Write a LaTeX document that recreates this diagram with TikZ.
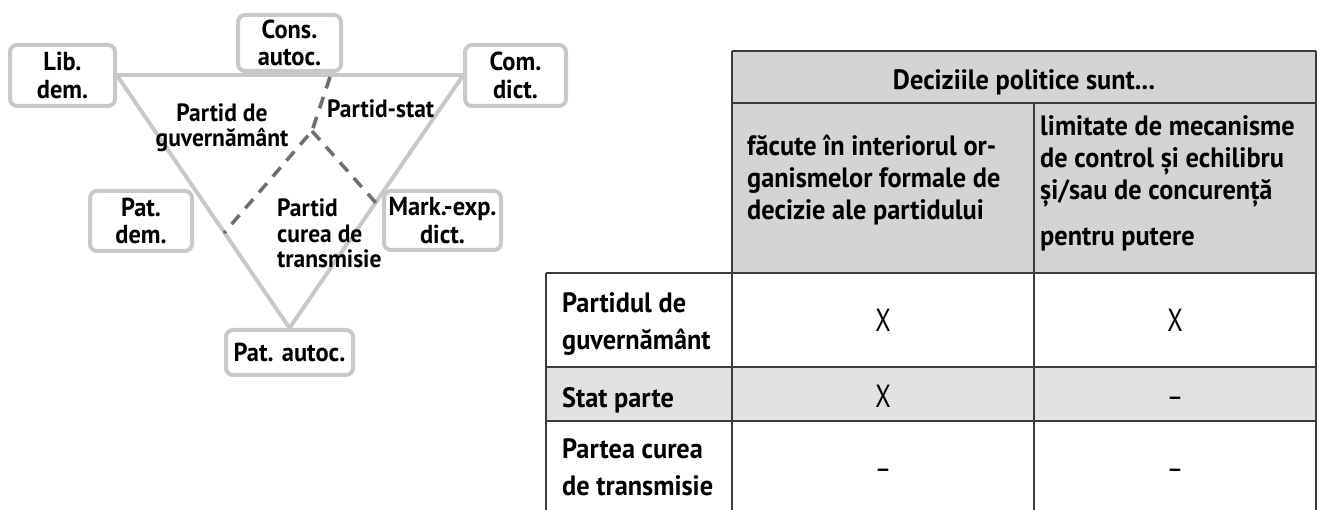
\documentclass[tikz,border=0pt]{standalone}
\usepackage{fontspec}
\setmainfont{PT Sans}[FakeStretch=0.94]
\newfontfamily\tickfont{PT Sans}[FakeStretch=0.78]
\usetikzlibrary{backgrounds}
\definecolor{boxgray}{HTML}{C8C8C8}
\definecolor{edgegray}{HTML}{C8C8C8}
\definecolor{dashgray}{HTML}{6E6E6E}
\definecolor{headfill}{HTML}{D4D4D4}
\definecolor{rowfill}{HTML}{E2E2E2}
\definecolor{rulegray}{HTML}{3C3C3C}
\begin{document}
% multi-line nodes below are placed by the baseline of their last line
\begin{tikzpicture}[x=1pt,y=-1pt,
  typebox/.style={draw=boxgray, line width=4pt, rounded corners=7pt, fill=white,
    align=center, inner sep=0pt, font=\fontsize{26}{27.5}\selectfont\bfseries},
  edge/.style={draw=edgegray, line width=4pt},
  split/.style={draw=dashgray, line width=3.5pt, dash pattern=on 12pt off 9pt},
  zonelabel/.style={inner sep=0pt, font=\fontsize{25}{25.5}\selectfont\bfseries},
  celltext/.style={inner sep=0pt, align=left, anchor=base west,
    font=\fontsize{28}{32}\selectfont\bfseries},
  rowtext/.style={inner sep=0pt, align=left, anchor=base west,
    font=\fontsize{28}{37}\selectfont\bfseries},
  tick/.style={inner sep=0pt, anchor=base, font=\fontsize{32}{32}\selectfont\tickfont},
  rule/.style={draw=rulegray, line width=1.5pt}
]
\useasboundingbox (0,0) rectangle (1317,510);

% ---- regime types around the triangle ----
\node[typebox, minimum width=105, minimum height=61] (lib) at (62.5,75.5) {Lib.\\dem.};
\node[typebox, minimum width=103, minimum height=56] (cons) at (289.5,43) {Cons.\\autoc.};
\node[typebox, minimum width=101, minimum height=61] (com) at (515.5,75.5) {Com.\\dict.};
\node[typebox, minimum width=102, minimum height=60] (patd) at (141,221) {Pat.\\dem.};
\node[typebox, minimum width=117, minimum height=59] (markexp) at (442.5,220.5) {Mark.-exp.\\dict.};
\node[typebox, minimum width=127, minimum height=45] (pata) at (289.5,352.5) {Pat. autoc.};

% triangle and the dashed partition of party types
\coordinate (stemtop) at (330,77);
\coordinate (fork) at (312,131);
\coordinate (leftend) at (224,233);
\coordinate (rightend) at (376,203);
\begin{scope}[on background layer]
  \draw[edge] (lib.east) -- (com.west);
  \draw[edge] (lib.east) -- (pata.north);
  \draw[edge] (com.west) -- (pata.north);
  \draw[split] (stemtop) -- (fork) -- (leftend);
  \draw[split] (fork) -- (rightend);
\end{scope}

\node[zonelabel, align=center, anchor=base] (gov) at (222,147) {Partid de\\guvernământ};
\node[zonelabel, anchor=base west] (state) at (327,118) {Partid-stat};
\node[zonelabel, align=left, anchor=base west] (belt) at (277,268) {Partid\\curea de\\transmisie};

% ---- table ----
\fill[headfill] (732,51) rectangle (1316,273);
\fill[rowfill] (546,367) rectangle (1316,421);
\draw[rule] (732,51) -- (1316,51);
\draw[rule] (732,103) -- (1316,103);
\draw[rule] (546,273) -- (1316,273);
\draw[rule] (546,367) -- (1316,367);
\draw[rule] (546,421) -- (1316,421);
\draw[rule] (546,273) -- (546,510);
\draw[rule] (732,51) -- (732,510);
\draw[rule] (1034,103) -- (1034,510);
\draw[rule] (1316,51) -- (1316,510);

\node[inner sep=0pt, anchor=base, font=\fontsize{28}{32}\selectfont\bfseries] (head) at (1024,90) {Deciziile politice sunt...};
\node[celltext] (inside) at (747,220) {făcute în interiorul or-\\ganismelor formale de\\decizie ale partidului};
\node[celltext] (limits) at (1040,246) {limitate de mecanisme\\de control și echilibru\\și/sau de concurență\\[14pt]pentru putere};

\node[rowtext] (r1) at (562,350) {Partidul de\\guvernământ};
\node[rowtext] (r2) at (562,407) {Stat parte};
\node[rowtext] (r3) at (562,495) {Partea curea\\de transmisie};

\node[tick] (m11) at (883,332) {X};
\node[tick] (m12) at (1175,332) {X};
\node[tick] (m21) at (883,407) {X};
\node[tick] (m22) at (1175,407) {–};
\node[tick] (m31) at (883,479) {–};
\node[tick] (m32) at (1175,479) {–};
\end{tikzpicture}
\end{document}
